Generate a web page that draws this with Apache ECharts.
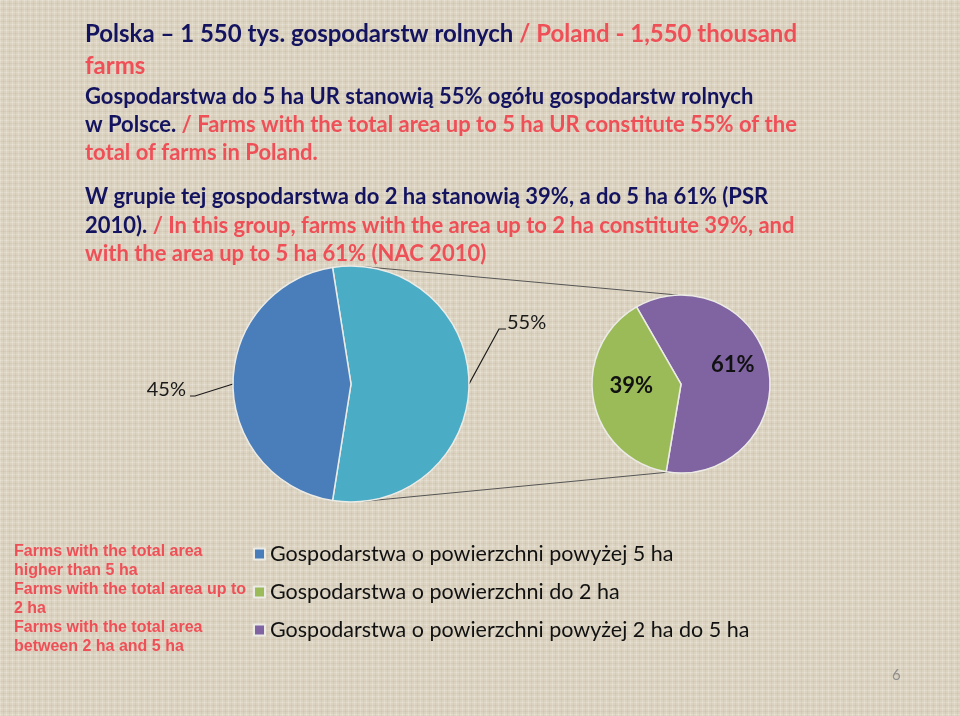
<!DOCTYPE html>
<html><head><meta charset="utf-8">
<script src="https://cdn.jsdelivr.net/npm/echarts@6/dist/echarts.min.js"></script>
<style>html,body{margin:0;padding:0;background:#dcd3bf}#c{width:960px;height:716px}</style>
</head><body><div id="c"></div>
<script>
// ---- data ----
const mainCategories = ['Gospodarstwa o powierzchni do 5 ha', 'Gospodarstwa o powierzchni powyżej 5 ha'];
const mainValues = [55, 45];
const subCategories = ['Gospodarstwa o powierzchni powyżej 2 ha do 5 ha', 'Gospodarstwa o powierzchni do 2 ha'];
const subValues = [61, 39];
const legendItems = ['Gospodarstwa o powierzchni powyżej 5 ha', 'Gospodarstwa o powierzchni do 2 ha', 'Gospodarstwa o powierzchni powyżej 2 ha do 5 ha'];
const englishNotes = ['Farms with the total area', 'higher than 5 ha', 'Farms with the total area up to', '2 ha', 'Farms with the total area', 'between 2 ha and 5 ha'];
const headingLines = [
  [['n', 'Polska – 1 550 tys. gospodarstw rolnych'], ['r', ' / Poland - 1,550 thousand']],
  [['r', 'farms']],
  [['n', 'Gospodarstwa do 5 ha UR stanowią 55% ogółu gospodarstw rolnych']],
  [['n', 'w Polsce.'], ['r', ' / Farms with the total area up to 5 ha UR constitute 55% of the']],
  [['r', 'total of farms in Poland.']],
  [['n', 'W grupie tej gospodarstwa do 2 ha stanowią 39%, a do 5 ha 61% (PSR']],
  [['n', '2010).'], ['r', ' / In this group, farms with the area up to 2 ha constitute 39%, and']],
  [['r', 'with the area up to 5 ha 61% (NAC 2010)']]
];
const pageNumber = '6';

// ---- styling / layout ----
const colorMap = {
  'Gospodarstwa o powierzchni do 5 ha': '#4bacc6',
  'Gospodarstwa o powierzchni powyżej 5 ha': '#4a7ebb',
  'Gospodarstwa o powierzchni do 2 ha': '#9bbb59',
  'Gospodarstwa o powierzchni powyżej 2 ha do 5 ha': '#8064a2'
};
const NAVY = '#13135f', RED = '#ef4f57';
const MAIN_C = [351, 384], MAIN_R = 118;
const SUB_C = [681, 384], SUB_R = 89;
const lineCenters = [34, 66, 97, 125, 153, 197, 226, 254];
const lineSizes = [24, 24, 22, 22, 22, 22, 22, 22];

// background texture
(function () {
  const cv = document.createElement('canvas');
  cv.width = 6; cv.height = 6;
  const g = cv.getContext('2d');
  g.fillStyle = '#dbd2bf'; g.fillRect(0, 0, 6, 6);
  g.fillStyle = 'rgba(242,237,226,0.35)'; g.fillRect(0, 0, 6, 1); g.fillRect(0, 0, 1, 6);
  g.fillStyle = 'rgba(180,170,148,0.15)'; g.fillRect(0, 3, 6, 1); g.fillRect(3, 0, 1, 6);
  document.getElementById('c').style.background = 'url(' + cv.toDataURL() + ')';
})();

function polar(c, r, deg) {
  const a = deg * Math.PI / 180;
  return [c[0] + r * Math.sin(a), c[1] - r * Math.cos(a)];
}

const titles = headingLines.map(function (segs, i) {
  const fs = lineSizes[i];
  return {
    text: segs.map(function (s) { return '{' + s[0] + '|' + s[1] + '}'; }).join(''),
    left: 85, top: lineCenters[i] - 15, padding: 0,
    textStyle: {
      rich: {
        n: { color: NAVY, fontFamily: 'Lato', fontWeight: 'bold', fontSize: fs, lineHeight: 30 },
        r: { color: RED, fontFamily: 'Lato', fontWeight: 'bold', fontSize: fs, lineHeight: 30 }
      }
    }
  };
});
titles.push({
  text: englishNotes.join('\n'), left: 14, top: 552 - 9.5, padding: 0,
  textStyle: { color: RED, fontFamily: 'Liberation Sans', fontWeight: 'bold', fontSize: 16, lineHeight: 19 }
});
titles.push({
  text: pageNumber, left: 892, top: 668, padding: 0,
  textStyle: { color: '#8e8e8e', fontFamily: 'Lato', fontWeight: 'normal', fontSize: 15 }
});

const t1 = polar(MAIN_C, MAIN_R, 6), t2 = polar(SUB_C, SUB_R, -2);
const b1 = polar(MAIN_C, MAIN_R, 174), b2 = polar(SUB_C, SUB_R, 188);

const chart = echarts.init(document.getElementById('c'), null, { renderer: 'canvas' });
chart.setOption({
  backgroundColor: 'transparent',
  animation: false,
  title: titles,
  legend: {
    data: legendItems, orient: 'vertical', left: 253, top: 543, padding: 0,
    itemWidth: 11, itemHeight: 11, itemGap: 16, icon: 'rect', selectedMode: false,
    textStyle: { color: '#111', fontFamily: 'Lato', fontSize: 21.5 }
  },
  graphic: [
    { type: 'line', z: 0, shape: { x1: t1[0], y1: t1[1], x2: t2[0], y2: t2[1] }, style: { stroke: '#555', lineWidth: 1 } },
    { type: 'line', z: 0, shape: { x1: b1[0], y1: b1[1], x2: b2[0], y2: b2[1] }, style: { stroke: '#555', lineWidth: 1 } }
  ],
  series: [
    {
      type: 'pie', z: 3, center: MAIN_C, radius: MAIN_R, startAngle: 99, clockwise: true,
      avoidLabelOverlap: false,
      data: mainCategories.map(function (n, i) { return { name: n, value: mainValues[i], itemStyle: { color: colorMap[n] } }; }),
      itemStyle: { borderColor: '#ecebe6', borderWidth: 1.5 },
      label: { show: true, position: 'outside', formatter: '{c}%', color: '#1a1a1a', fontFamily: 'Lato', fontSize: 20 },
      labelLine: { show: true, length: 10, length2: 21, lineStyle: { color: '#1a1a1a', width: 1.2 } },
      labelLayout: function (p) {
        const pts = p.labelLinePoints, r = p.labelRect;
        if (!pts) return {};
        if (p.dataIndex === 0) {
          const dx = 2, dy = -61;
          const y = r.y + dy + r.height * 0.8;
          return { dx: dx, dy: dy, labelLinePoints: [pts[0], [r.x + dx - 8, y], [r.x + dx - 1, y]] };
        } else {
          const dx = -11, dy = 6;
          const x = r.x + dx + r.width;
          const y = r.y + dy + r.height * 0.8;
          return { dx: dx, dy: dy, labelLinePoints: [pts[0], [x + 9, y], [x + 4, y]] };
        }
      },
      emphasis: { disabled: true }
    },
    {
      type: 'pie', z: 3, center: SUB_C, radius: SUB_R, startAngle: 120, clockwise: true,
      avoidLabelOverlap: false,
      data: subCategories.map(function (n, i) { return { name: n, value: subValues[i], itemStyle: { color: colorMap[n] } }; }),
      itemStyle: { borderColor: '#ecebe6', borderWidth: 1.5 },
      label: { show: true, position: 'inside', formatter: '{c}%', color: '#111', fontFamily: 'Lato', fontWeight: 'bold', fontSize: 22 },
      labelLine: { show: false },
      labelLayout: function (p) {
        return p.dataIndex === 0 ? { dx: 5, dy: -11 } : { dx: -3, dy: -7 };
      },
      emphasis: { disabled: true }
    }
  ]
});
</script></body></html>
